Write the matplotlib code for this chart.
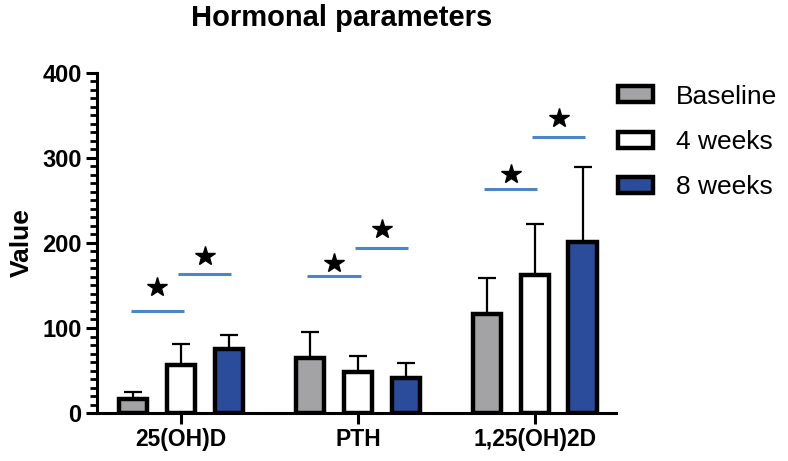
import matplotlib.pyplot as plt
import numpy as np
from matplotlib.ticker import MultipleLocator

plt.rcParams['font.family'] = ['Liberation Sans', 'DejaVu Sans']

groups = ['25(OH)D', 'PTH', '1,25(OH)2D']
series = ['Baseline', '4 weeks', '8 weeks']
baseline = [17, 65, 116]
baseline_sd = [8, 30, 43]
week4 = [56, 48, 162]
week4_sd = [25, 19, 60]
week8 = [75, 41, 201]
week8_sd = [17, 18, 88]

# significance bars: (group, first bar, second bar, line height, star height)
sig_group = [0, 0, 1, 1, 2, 2]
sig_from = [0, 1, 0, 1, 0, 1]
sig_line = [120, 163, 161, 194, 263, 325]
sig_star = [148, 185, 176, 216, 281, 347]

colors = ['#a3a3a6', '#ffffff', '#2b4b9b']
values = [baseline, week4, week8]
errs = [baseline_sd, week4_sd, week8_sd]

fig = plt.figure(figsize=(7.88, 4.61), dpi=100)
ax = fig.add_axes([0.123, 0.104, 0.659, 0.738])

x = np.arange(len(groups))
off = 0.27
w = 0.16
for i in range(3):
    xs = x + (i - 1) * off
    ax.bar(xs, values[i], w, color=colors[i], edgecolor='black', linewidth=3.2,
           label=series[i], zorder=3)
    ax.errorbar(xs, values[i], yerr=[np.zeros(3), errs[i]], fmt='none',
                ecolor='black', elinewidth=1.6, capsize=6.5, capthick=1.6, zorder=2)

for g, a, ly, sy in zip(sig_group, sig_from, sig_line, sig_star):
    x1 = x[g] + (a - 1) * off
    x2 = x1 + off
    mid = (x1 + x2) / 2
    ax.plot([mid - 0.15, mid + 0.15], [ly, ly], color='#4a86c8', lw=2.2,
            solid_capstyle='butt', zorder=4)
    ax.plot(mid, sy, marker='*', color='black', markersize=15, zorder=4)

ax.set_xlim(-0.475, 2.46)
ax.set_ylim(0, 400)
ax.set_yticks([0, 100, 200, 300, 400])
ax.yaxis.set_minor_locator(MultipleLocator(10))
ax.set_xticks(x)
ax.set_xticklabels(groups, fontsize=16.5, fontweight='bold')
for lab in ax.get_yticklabels():
    lab.set_fontsize(17)
    lab.set_fontweight('bold')
ax.tick_params(axis='y', which='major', length=8, width=2.2, pad=3)
ax.tick_params(axis='y', which='minor', length=5, width=2)
ax.tick_params(axis='x', which='major', length=8, width=2.2, pad=3)
for s in ['top', 'right']:
    ax.spines[s].set_visible(False)
for s in ['left', 'bottom']:
    ax.spines[s].set_linewidth(2.2)

ax.set_ylabel('Value', fontsize=19, fontweight='bold', labelpad=6)
fig.text(0.434, 0.96, 'Hormonal parameters', ha='center', va='center',
         fontsize=21, fontweight='bold')

leg = ax.legend(loc='upper left', bbox_to_anchor=(1.003, 0.965), frameon=False,
                fontsize=19, handlelength=1.35, handleheight=0.55,
                labelspacing=0.81, handletextpad=0.85, borderaxespad=0,
                borderpad=0)

fig.savefig('out.png', dpi=100)
